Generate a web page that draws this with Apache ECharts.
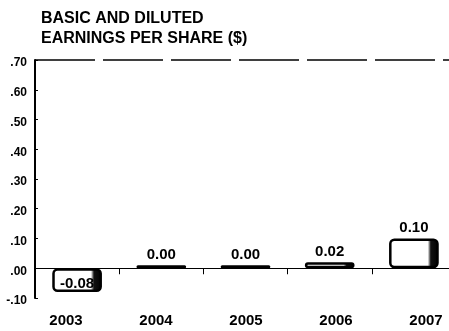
<!DOCTYPE html>
<html>
<head>
<meta charset="utf-8">
<style>
  html, body { margin: 0; padding: 0; background: #fff; }
  #chart { width: 449px; height: 331px; }
</style>
<script src="https://cdn.jsdelivr.net/npm/echarts@6/dist/echarts.min.js"></script>
</head>
<body>
<div id="chart"></div>
<script>
// Basic and diluted earnings per share, by fiscal year
var years = ['2003', '2004', '2005', '2006', '2007'];
var eps = [-0.08, 0.00, 0.00, 0.02, 0.10];
var epsLabels = ['-0.08', '0.00', '0.00', '0.02', '0.10'];
var yTickLabels = ['-.10', '.00', '.10', '.20', '.30', '.40', '.50', '.60', '.70'];
var yMin = -0.1, yMax = 0.7, yStep = 0.1;

var FONT = '"Liberation Sans", Arial, Helvetica, sans-serif';

// White bar body with a dark shaded right edge
var barFill = {
  type: 'linear', x: 0, y: 0, x2: 1, y2: 0,
  colorStops: [
    { offset: 0, color: '#ffffff' },
    { offset: 0.78, color: '#ffffff' },
    { offset: 0.84, color: '#111111' },
    { offset: 1, color: '#000000' }
  ]
};

var chart = echarts.init(document.getElementById('chart'), null, { renderer: 'canvas' });

chart.setOption({
  animation: false,
  backgroundColor: '#ffffff',
  title: {
    text: 'BASIC AND DILUTED\nEARNINGS PER SHARE ($)',
    left: 36,
    top: 4,
    textStyle: {
      fontFamily: FONT,
      fontWeight: 'bold',
      fontSize: 16,
      lineHeight: 20,
      color: '#000'
    }
  },
  grid: [
    // plot area with the bars (runs a little past the right edge)
    { left: 35, top: 60, width: 421, bottom: 33, containLabel: false, outerBoundsMode: 'none' },
    // year captions, spread a little wider than the bars
    { left: 21, top: 60, width: 450, bottom: 33, containLabel: false, outerBoundsMode: 'none' }
  ],
  xAxis: [{
    type: 'category',
    gridIndex: 0,
    data: years,
    axisLine: { show: true, lineStyle: { color: '#000', width: 1 } },
    axisTick: { show: true, length: 6, lineStyle: { color: '#000' } },
    axisLabel: { show: false },
    splitLine: { show: false }
  }, {
    type: 'category',
    gridIndex: 1,
    data: years,
    axisLine: { show: false },
    axisTick: { show: false },
    axisLabel: {
      margin: 15,
      fontFamily: FONT,
      fontWeight: 'bold',
      fontSize: 15,
      color: '#000'
    },
    splitLine: { show: false }
  }],
  yAxis: [{
    type: 'value',
    gridIndex: 0,
    min: yMin,
    max: yMax,
    interval: yStep,
    axisLine: { show: true, lineStyle: { color: '#000', width: 2 } },
    axisTick: { show: true, inside: true, length: 3, lineStyle: { color: '#000' } },
    axisLabel: {
      margin: 8,
      color: '#000',
      formatter: function (v) {
        return '{t|' + yTickLabels[Math.round((v - yMin) / yStep)] + '}';
      },
      rich: {
        t: {
          fontFamily: FONT,
          fontWeight: 'bold',
          fontSize: 12,
          color: '#000',
          padding: [6, 0, 0, 0]
        }
      }
    },
    splitLine: { show: false }
  }, {
    type: 'value',
    gridIndex: 1,
    min: yMin,
    max: yMax,
    show: false
  }],
  series: [{
    type: 'bar',
    xAxisIndex: 0,
    yAxisIndex: 0,
    data: eps.map(function (v) {
      return {
        value: v,
        label: {
          position: v < 0 ? 'insideBottom' : 'top',
          distance: v < 0 ? 1 : 3
        }
      };
    }),
    barWidth: '59%',
    barMinHeight: 3,
    itemStyle: {
      color: barFill,
      borderColor: '#000',
      borderWidth: 2.5,
      borderRadius: 4
    },
    label: {
      show: true,
      fontFamily: FONT,
      fontWeight: 'bold',
      fontSize: 15,
      color: '#000',
      formatter: function (p) { return epsLabels[p.dataIndex]; }
    },
    // top rule of the plot area
    markLine: {
      silent: true,
      symbol: 'none',
      label: { show: false },
      lineStyle: { color: '#000', width: 1.5, type: [60, 8] },
      data: [{ yAxis: yMax }]
    }
  }]
});
</script>
</body>
</html>
